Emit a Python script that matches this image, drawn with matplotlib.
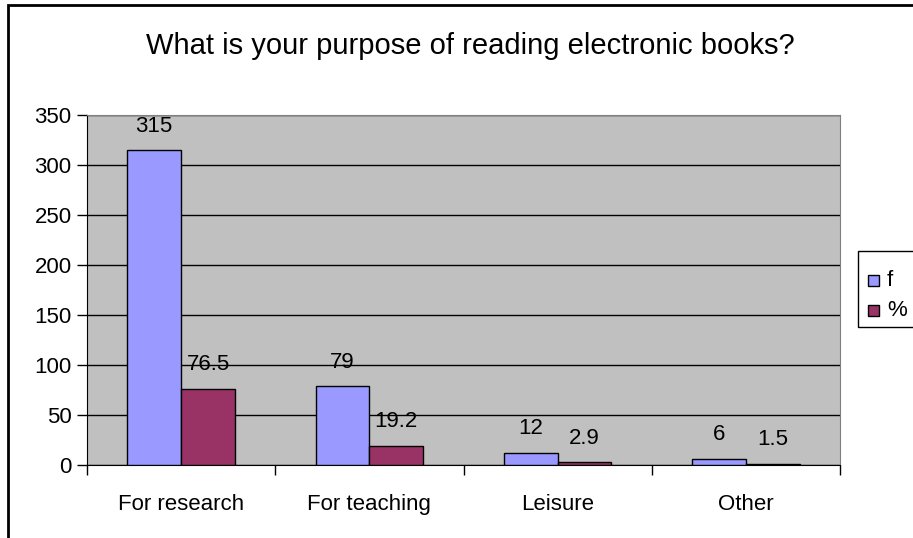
import numpy as np
import matplotlib.pyplot as plt
from matplotlib.patches import Rectangle

plt.rcParams['font.family'] = ['Liberation Sans', 'DejaVu Sans']

categories = ['For research', 'For teaching', 'Leisure', 'Other']
f_values = [315, 79, 12, 6]
pct_values = [76.5, 19.2, 2.9, 1.5]
pct_labels = ['76.5', '19.2', '2.9', '1.5']
series_names = ['f', '%']
series_colors = ['#9999FF', '#993366']

W, H = 913, 538
fig = plt.figure(figsize=(W / 100, H / 100), dpi=100)

# outer chart border (cut off at right and bottom)
fig.patches.append(Rectangle((8/W, -0.1), 1.2, 1 - 5/H + 0.1, transform=fig.transFigure,
                             fill=False, edgecolor='black', linewidth=2))

ax = fig.add_axes([87/W, 1 - 465/H, (840-87)/W, (465-115)/H])
ax.set_facecolor('#C0C0C0')

x = np.arange(len(categories))
w = 1 / 3.5
b1 = ax.bar(x - w/2, f_values, w, color=series_colors[0], edgecolor='black', linewidth=1, zorder=3)
b2 = ax.bar(x + w/2, pct_values, w, color=series_colors[1], edgecolor='black', linewidth=1, zorder=3)

for rect, v in zip(b1, f_values):
    ax.text(rect.get_x() + rect.get_width()/2, v + 24, str(v), ha='center', va='center', fontsize=16, zorder=4)
for rect, v, s in zip(b2, pct_values, pct_labels):
    ax.text(rect.get_x() + rect.get_width()/2, v + 24, s, ha='center', va='center', fontsize=16, zorder=4)

ax.set_xlim(-0.5, 3.5)
ax.set_ylim(0, 350)
ax.set_yticks(range(0, 351, 50))
ax.yaxis.grid(True, color='black', linewidth=1, zorder=1)
ax.set_axisbelow(True)

ax.set_xticks(x)
ax.set_xticklabels(categories, fontsize=16)
ax.tick_params(axis='x', length=0, pad=21)
ax.set_xticks(np.arange(-0.5, 4, 1), minor=True)
ax.tick_params(axis='x', which='minor', length=7, width=1, direction='out')
ax.tick_params(axis='y', labelsize=16, length=7, width=1, direction='out', pad=4)

for s in ['top', 'right']:
    ax.spines[s].set_color('#808080')
ax.spines['left'].set_color('black')
ax.spines['bottom'].set_color('black')

fig.text(470/W, 1 - 46/H, 'What is your purpose of reading electronic books?',
         ha='center', va='center', fontsize=21)

# legend box drawn by hand, Excel style
fig.patches.append(Rectangle((858/W, 1 - 327/H), 60/W, 76/H, transform=fig.transFigure,
                             facecolor='white', edgecolor='black', linewidth=1))
for i, (name, col) in enumerate(zip(series_names, series_colors)):
    yc = 280 + 30 * i
    fig.patches.append(Rectangle((868/W, 1 - (yc + 6)/H), 11/W, 11/H, transform=fig.transFigure,
                                 facecolor=col, edgecolor='black', linewidth=1))
    fig.text(887/W, 1 - yc/H, name, ha='left', va='center', fontsize=16)

fig.savefig('out.png', dpi=100)
